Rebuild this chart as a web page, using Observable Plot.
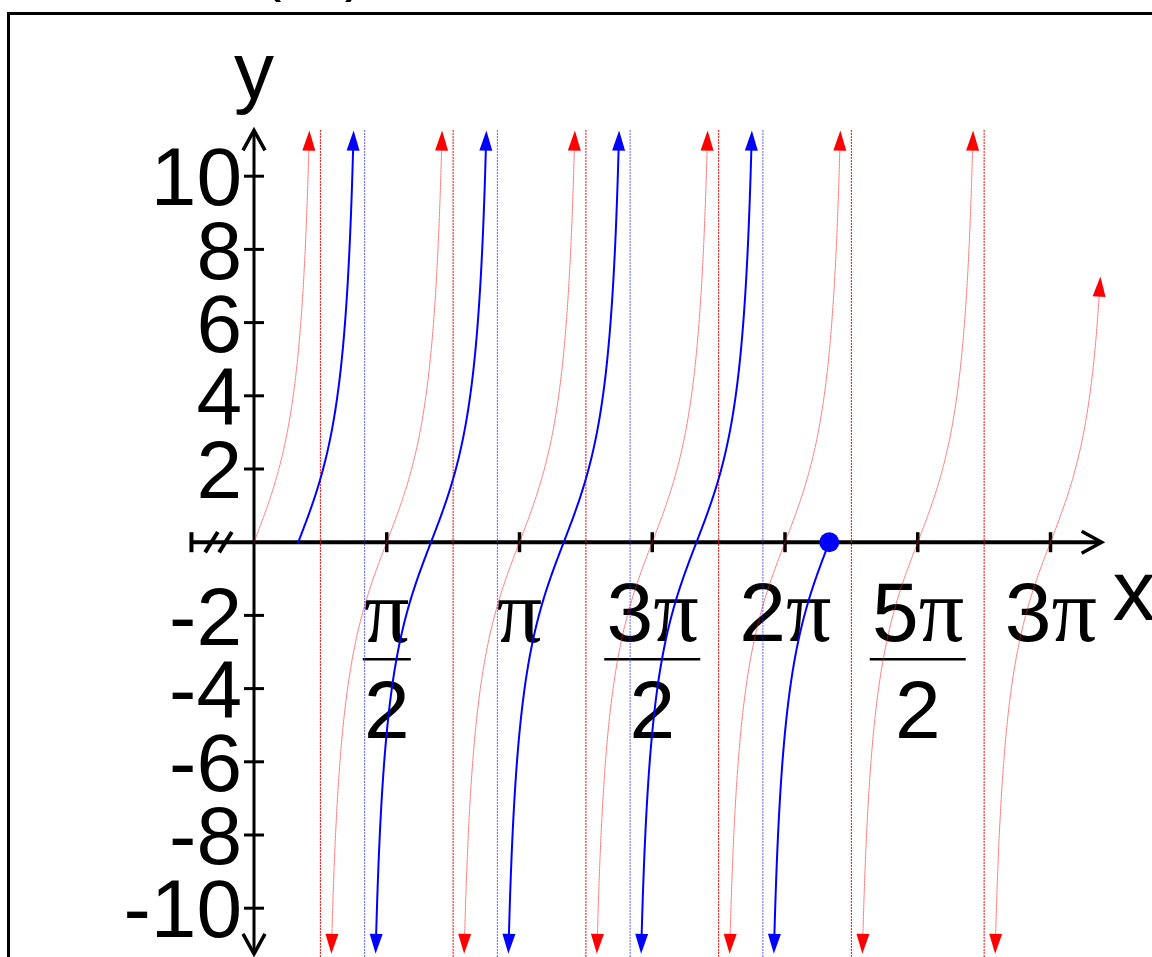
<!DOCTYPE html>
<html>
<head>
<meta charset="utf-8">
<script src="https://cdn.jsdelivr.net/npm/d3@7"></script>
<script src="https://cdn.jsdelivr.net/npm/@observablehq/plot@0.6"></script>
<style>
  html, body { margin: 0; padding: 0; overflow: hidden; background: #fff; }
  #frame { position: absolute; left: 7px; top: 12px; width: 1400px; height: 1200px; border: 3px solid #000; }
  #title { position: absolute; left: 128px; top: -60px; font: 60px "Liberation Sans", Arial, sans-serif; line-height: 60px; white-space: nowrap; }
  #chart { position: absolute; left: 0; top: 0; }
</style>
</head>
<body>
<div id="frame"></div>
<div id="title">3 tan(2x)</div>
<div id="chart"></div>
<script>
const PI = Math.PI;

// Graphed functions: y = amplitude · tan(frequency · x − phase), on [start, end]
const redFunction  = {amplitude: 3, frequency: 2, phase: 0,      start: 0,          end: 10};
const blueFunction = {amplitude: 3, frequency: 2, phase: PI / 3, start: PI / 6,     end: 13 * PI / 6};

// Curves are cut where |y| reaches this value; an arrowhead continues them.
const yCut = 10.7;

// Vertical asymptotes of each function
const redAsymptotes  = [PI / 4, 3 * PI / 4, 5 * PI / 4, 7 * PI / 4, 9 * PI / 4, 11 * PI / 4];
const blueAsymptotes = [5 * PI / 12, 11 * PI / 12, 17 * PI / 12, 23 * PI / 12];

// Axis ticks and their labels
const xTickValues  = [PI / 2, PI, 3 * PI / 2, 2 * PI, 5 * PI / 2, 3 * PI];
const xTickCoeffs  = ["", "", "3", "2", "5", "3"];
const xTickDenoms  = ["2", "", "2", "", "2", ""];
const yTickValues  = [10, 8, 6, 4, 2, -2, -4, -6, -8, -10];

// Extent of the drawn axes (x starts with a break mark)
const xAxisFrom = -0.74, xAxisTo = 10.03;
const yAxisFrom = -11.25, yAxisTo = 11.25;

// Scales
const xDomain = [0, 3 * PI], xRange = [253.5, 1050];
const yDomain = [-10, 10],   yRange = [907.7, 175.7];
const kx = (xRange[1] - xRange[0]) / (xDomain[1] - xDomain[0]);
const ky = (yRange[0] - yRange[1]) / (yDomain[1] - yDomain[0]);

// Split a tangent function into its branches, sampled between the cut lines
function branches(fn, name) {
  const {amplitude: A, frequency: B, phase: C, start, end} = fn;
  const reach = Math.atan(yCut / A) / B;
  const kMin = Math.floor((B * start - C) / PI) - 1;
  const kMax = Math.ceil((B * end - C) / PI) + 1;
  const out = [];
  for (let k = kMin; k <= kMax; ++k) {
    const x0 = (k * PI + C) / B;
    const lo = Math.max(x0 - reach, start), hi = Math.min(x0 + reach, end);
    if (hi <= lo) continue;
    const pts = [];
    const n = 200;
    for (let i = 0; i <= n; ++i) {
      const x = lo + (hi - lo) * i / n;
      pts.push({series: name, branch: k, x, y: A * Math.tan(B * x - C)});
    }
    out.push({lo, hi, loCut: x0 - reach > start, hiCut: x0 + reach < end, pts});
  }
  return out;
}

// Screen-space angle (degrees clockwise from up) of the curve's tangent
function tangentAngle(fn, x) {
  const t = Math.tan(fn.frequency * x - fn.phase);
  const slope = fn.amplitude * fn.frequency * (1 + t * t) * ky / kx;
  return Math.atan(1 / slope) * 180 / PI;
}

function arrowsFor(fn, parts, arrowAtEnd) {
  const heads = [];
  for (const p of parts) {
    if (p.hiCut) heads.push({x: p.hi, y: yCut, rotate: tangentAngle(fn, p.hi)});
    if (p.loCut) heads.push({x: p.lo, y: -yCut, rotate: 180 + tangentAngle(fn, p.lo)});
  }
  if (arrowAtEnd) {
    const x = fn.end, y = fn.amplitude * Math.tan(fn.frequency * x - fn.phase);
    heads.push({x, y, rotate: tangentAngle(fn, x)});
  }
  return heads;
}

const redParts = branches(redFunction, "red");
const blueParts = branches(blueFunction, "blue");
const redPoints = redParts.flatMap(p => p.pts);
const bluePoints = blueParts.flatMap(p => p.pts);
const redHeads = arrowsFor(redFunction, redParts, true);
const blueHeads = arrowsFor(blueFunction, blueParts, false);
const blueEnd = [{x: blueFunction.end, y: 0}];

// Vector shapes
const segment = {draw(ctx, l) { ctx.moveTo(0, 0); ctx.lineTo(0, -l); }};
const chevron = {draw(ctx, l) { const w = 11; ctx.moveTo(-w, l); ctx.lineTo(0, 0); ctx.lineTo(w, l); }};
const triangle = {draw(ctx, l) { const w = 6.5; ctx.moveTo(-w, 0); ctx.lineTo(0, -l); ctx.lineTo(w, 0); ctx.closePath(); }};

const sans = "Liberation Sans, Arial, Helvetica, sans-serif";
const serif = "Liberation Serif, Times New Roman, serif";

const idx = xTickValues.map((_, i) => i);
const coeffIdx = idx.filter(i => xTickCoeffs[i]);
const plainIdx = idx.filter(i => !xTickCoeffs[i]);
const denomIdx = idx.filter(i => xTickDenoms[i]);
const shortBarIdx = denomIdx.filter(i => !xTickCoeffs[i]);
const longBarIdx = denomIdx.filter(i => xTickCoeffs[i]);

const chart = Plot.plot({
  width: 1152,
  height: 957,
  margin: 0,
  style: {background: "transparent", overflow: "visible"},
  x: {type: "linear", domain: xDomain, range: xRange, axis: null},
  y: {type: "linear", domain: yDomain, range: yRange, axis: null},
  marks: [
    // y tick labels
    Plot.text(yTickValues, {x: 0, y: d => d, text: d => String(d), textAnchor: "end", lineAnchor: "middle",
      dx: -12, dy: 3, fontSize: 82, fontFamily: sans, fill: "black"}),
    // x tick labels: coefficient, π, fraction bar, denominator
    Plot.text(coeffIdx, {x: i => xTickValues[i], y: 0, text: i => xTickCoeffs[i], textAnchor: "end", lineAnchor: "bottom",
      dx: 1, dy: 99, fontSize: 84, fontFamily: sans, fill: "black"}),
    Plot.text(coeffIdx, {x: i => xTickValues[i], y: 0, text: () => "π", textAnchor: "start", lineAnchor: "bottom",
      dx: 1, dy: 99, fontSize: 90, fontFamily: serif, fill: "black"}),
    Plot.text(plainIdx, {x: i => xTickValues[i], y: 0, text: () => "π", textAnchor: "middle", lineAnchor: "bottom",
      dy: 100, fontSize: 90, fontFamily: serif, fill: "black"}),
    Plot.vector(shortBarIdx, {x: i => xTickValues[i], y: 0, dy: 117, rotate: 90, anchor: "middle",
      length: 48, shape: segment, stroke: "black", strokeWidth: 2.5, strokeLinecap: "butt"}),
    Plot.vector(longBarIdx, {x: i => xTickValues[i], y: 0, dy: 117, rotate: 90, anchor: "middle",
      length: 96, shape: segment, stroke: "black", strokeWidth: 2.5, strokeLinecap: "butt"}),
    Plot.text(denomIdx, {x: i => xTickValues[i], y: 0, text: i => xTickDenoms[i], textAnchor: "middle", lineAnchor: "bottom",
      dy: 196, fontSize: 82, fontFamily: sans, fill: "black"}),
    // axis names
    Plot.text(["y"], {x: 0, frameAnchor: "top", text: d => d, textAnchor: "middle", lineAnchor: "bottom",
      dy: 97, fontSize: 80, fontFamily: sans, fill: "black"}),
    Plot.text(["x"], {y: 0, frameAnchor: "right", text: d => d, textAnchor: "start", lineAnchor: "bottom",
      dx: -40, dy: 78, fontSize: 86, fontFamily: sans, fill: "black"}),

    // axes
    Plot.ruleY([0], {x1: xAxisFrom, x2: xAxisTo, stroke: "black", strokeWidth: 4}),
    Plot.ruleX([0], {y1: yAxisFrom, y2: yAxisTo, stroke: "black", strokeWidth: 3}),
    Plot.vector(xTickValues, {x: d => d, y: 0, length: 20, anchor: "middle", shape: segment,
      stroke: "black", strokeWidth: 3.5, strokeLinecap: "butt"}),
    Plot.vector(yTickValues, {x: 0, y: d => d, length: 20, rotate: 90, anchor: "middle", shape: segment,
      stroke: "black", strokeWidth: 3, strokeLinecap: "butt"}),
    // axis break at the left end of the x axis: an end bar and two slashes (offsets in px)
    Plot.vector([xAxisFrom], {x: d => d, y: 0, length: 20, anchor: "middle", shape: segment,
      stroke: "black", strokeWidth: 4, strokeLinecap: "butt"}),
    Plot.vector([20, 34], {x: d => xAxisFrom + d / kx, y: 0, length: 24, rotate: 32, anchor: "middle", shape: segment,
      stroke: "black", strokeWidth: 4, strokeLinecap: "butt"}),
    // axis arrowheads
    Plot.vector([{x: 0, y: yAxisTo, r: 0}, {x: 0, y: yAxisFrom, r: 180}, {x: xAxisTo, y: 0, r: 90}],
      {x: "x", y: "y", rotate: "r", length: 20, anchor: "start", shape: chevron,
       stroke: "black", strokeWidth: 3.5, strokeLinecap: "butt", strokeLinejoin: "miter"}),

    // asymptotes
    Plot.ruleX(redAsymptotes, {y1: yAxisTo, y2: -13, stroke: "#ff0000", strokeWidth: 1, strokeDasharray: "2,1"}),
    Plot.ruleX(blueAsymptotes, {y1: yAxisTo, y2: -13, stroke: "#2a2aff", strokeOpacity: 0.75, strokeWidth: 1, strokeDasharray: "2,1"}),

    // curves
    Plot.line(redPoints, {x: "x", y: "y", z: "branch", stroke: "#ff2020", strokeOpacity: 0.6, strokeWidth: 1,
      strokeDasharray: "2,1", curve: "linear"}),
    Plot.line(bluePoints, {x: "x", y: "y", z: "branch", stroke: "#0000ff", strokeWidth: 2, curve: "linear"}),

    // curve arrowheads and the closed end point
    Plot.vector(redHeads, {x: "x", y: "y", rotate: "rotate", length: 20, anchor: "start", shape: triangle,
      fill: "#ff0000", stroke: "none"}),
    Plot.vector(blueHeads, {x: "x", y: "y", rotate: "rotate", length: 20, anchor: "start", shape: triangle,
      fill: "#0000ff", stroke: "none"}),
    Plot.dot(blueEnd, {x: "x", y: "y", r: 10, fill: "#0000ff", stroke: "none"})
  ]
});

document.getElementById("chart").append(chart);
</script>
</body>
</html>
